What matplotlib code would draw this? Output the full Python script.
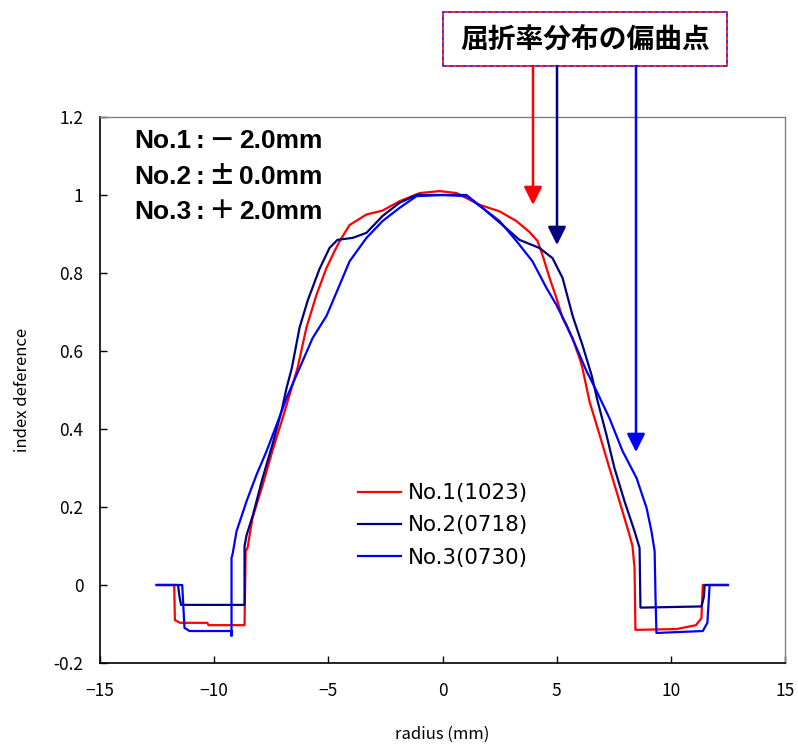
import matplotlib
matplotlib.use("Agg")
import matplotlib.pyplot as plt
from matplotlib.patches import Rectangle, FancyArrowPatch
from matplotlib.offsetbox import TextArea, HPacker, AnchoredOffsetbox

plt.rcParams['font.family'] = ['Noto Sans CJK JP', 'DejaVu Sans']
latin_bold = ['Liberation Sans', 'Noto Sans CJK JP', 'DejaVu Sans']
cjk = ['Noto Sans CJK JP', 'DejaVu Sans']

# ---- data ----
red_x = [-12.5, -11.75, -11.72, -11.5, -10.3, -10.25, -8.67, -8.62, -8.54, -8.32, -7.88, -7.45, -7.0, -6.61,
         -6.35, -5.96, -5.52, -5.08, -4.73, -4.5, -4.07, -3.33, -2.63, -1.88, -1.0, -0.13, 0.61, 1.62, 2.5,
         3.24, 3.81, 4.16, 4.38, 4.69, 4.99, 5.26, 5.69, 6.0, 6.13, 6.44, 6.88, 7.31, 7.75, 8.19, 8.32, 8.41,
         8.45, 10.25, 11.1, 11.34, 11.4, 12.5]
red_y = [0, 0, -0.09, -0.097, -0.097, -0.103, -0.103, 0.087, 0.095, 0.172, 0.256, 0.344, 0.428, 0.505,
         0.556, 0.66, 0.744, 0.813, 0.856, 0.882, 0.923, 0.95, 0.96, 0.984, 1.005, 1.01, 1.005, 0.975, 0.958,
         0.933, 0.905, 0.882, 0.846, 0.787, 0.736, 0.684, 0.633, 0.582, 0.556, 0.47, 0.385, 0.30, 0.215, 0.128,
         0.10, 0.044, -0.115, -0.113, -0.103, -0.085, 0, 0]

navy_x = [-12.5, -11.58, -11.52, -11.45, -8.67, -8.67, -8.58, -8.3, -7.9, -7.45, -7.05, -6.83, -6.6, -6.26,
          -5.9, -5.39, -4.95, -4.6, -3.94, -3.33, -2.63, -1.88, -1.14, 0, 1.05, 1.75, 2.63, 3.37, 4.25, 4.82,
          5.26, 5.7, 6.13, 6.53, 6.8, 7.18, 7.53, 7.97, 8.41, 8.63, 8.67, 11.34, 11.45, 11.48, 12.5]
navy_y = [0, 0, -0.03, -0.051, -0.051, 0.10, 0.128, 0.18, 0.27, 0.36, 0.446, 0.505, 0.556, 0.66,
          0.73, 0.81, 0.864, 0.885, 0.89, 0.903, 0.946, 0.98, 1.0, 1.0, 1.0, 0.967, 0.923, 0.885, 0.864, 0.838,
          0.787, 0.69, 0.615, 0.538, 0.47, 0.385, 0.30, 0.215, 0.138, 0.095, -0.058, -0.055, -0.03, 0, 0]

blue_x = [-12.53, -11.4, -11.3, -11.08, -9.24, -9.24, -9.24, -9.2, -9.02, -8.58, -8.15, -7.7, -7.27, -6.83,
          -6.26, -5.69, -5.08, -4.5, -4.07, -3.33, -2.63, -1.88, -1.14, 0, 1.05, 1.75, 2.5, 3.24, 3.94, 4.55,
          4.99, 5.43, 5.87, 6.31, 6.75, 7.31, 7.88, 8.5, 8.94, 9.15, 9.29, 9.33, 9.37, 11.4, 11.6, 11.7, 12.5]
blue_y = [0, 0, -0.11, -0.118, -0.118, -0.13, 0.07, 0.077, 0.138, 0.215, 0.282, 0.344, 0.41, 0.48,
          0.556, 0.633, 0.69, 0.77, 0.83, 0.89, 0.933, 0.967, 0.997, 1.0, 0.997, 0.967, 0.933, 0.882, 0.83, 0.762,
          0.718, 0.667, 0.608, 0.548, 0.497, 0.428, 0.344, 0.274, 0.197, 0.138, 0.087, -0.033, -0.123, -0.118,
          -0.097, 0, 0]

series_labels = ['No.1(1023)', 'No.2(0718)', 'No.3(0730)']
series_colors = ['#FF0000', '#000080', '#0000FF']

x_ticks = [-15, -10, -5, 0, 5, 10, 15]
x_ticklabels = ['\u221215', '\u221210', '\u22125', '0', '5', '10', '15']
y_ticks = [-0.2, 0, 0.2, 0.4, 0.6, 0.8, 1.0, 1.2]
y_ticklabels = ['-0.2', '0', '0.2', '0.4', '0.6', '0.8', '1', '1.2']

# each condition line: name, separator, sign, value
condition_names = ['No.1', 'No.2', 'No.3']
condition_signs = ['－', '±', '＋']
condition_values = ['2.0mm', '0.0mm', '2.0mm']
title_text = '屈折率分布の偏曲点'

# ---- figure ----
W, H = 798, 744
fig = plt.figure(figsize=(W / 100, H / 100), dpi=100)
ax = fig.add_axes([100 / W, 1 - 663 / H, 685 / W, 546 / H])

for xs, ys, lab, col in zip([red_x, navy_x, blue_x], [red_y, navy_y, blue_y], series_labels, series_colors):
    ax.plot(xs, ys, color=col, lw=1.6, label=lab)

ax.set_xlim(-15, 15)
ax.set_ylim(-0.2, 1.2)
ax.set_xticks(x_ticks)
ax.set_xticklabels(x_ticklabels, fontsize=12.5)
ax.set_yticks(y_ticks)
ax.set_yticklabels(y_ticklabels, fontsize=12.5)
ax.tick_params(axis='both', direction='in', length=5, width=1)
ax.tick_params(axis='x', pad=14)
ax.tick_params(axis='y', pad=12)
ax.tick_params(top=False, right=False)
for s in ['left', 'bottom']:
    ax.spines[s].set_color('black')
    ax.spines[s].set_linewidth(1.2)
for s in ['top', 'right']:
    ax.spines[s].set_color('#808080')
    ax.spines[s].set_linewidth(1.0)

ax.set_xlabel('radius (mm)', fontsize=12, labelpad=18)
ax.set_ylabel('index deference', fontsize=12, labelpad=16)

leg = ax.legend(loc='center left', bbox_to_anchor=(0.377, 0.252), frameon=False,
                prop={'family': 'DejaVu Sans', 'size': 15.4},
                handlelength=2.0, handletextpad=0.3, labelspacing=0.58, borderpad=0, borderaxespad=0)

# condition text (mixed fonts)
fs = 19
for i in range(3):
    parts = [
        TextArea(condition_names[i], textprops=dict(fontsize=fs, fontweight='bold', family=latin_bold)),
        TextArea(':', textprops=dict(fontsize=fs, fontweight='bold', family=latin_bold)),
        TextArea(condition_signs[i], textprops=dict(fontsize=fs, fontweight='bold', family=cjk)),
        TextArea(condition_values[i], textprops=dict(fontsize=fs, fontweight='bold', family=latin_bold)),
    ]
    box = HPacker(children=parts, sep=3, align='baseline', pad=0)
    anc = AnchoredOffsetbox(loc='center left', child=box, frameon=False, pad=0, borderpad=0,
                            bbox_to_anchor=(134 / W, 1 - (141 + i * 35) / H),
                            bbox_transform=fig.transFigure)
    fig.add_artist(anc)

# title box
fig.add_artist(Rectangle((443 / W, 1 - 66 / H), 284 / W, 54 / H, transform=fig.transFigure,
                         facecolor='white', edgecolor='#FF0000', lw=1.2))
fig.add_artist(Rectangle((443 / W, 1 - 66 / H), 284 / W, 54 / H, transform=fig.transFigure,
                         fill=False, edgecolor='#3030FF', lw=1.2, ls=(0, (2, 2))))
fig.text(585 / W, 1 - 40 / H, title_text, fontsize=20, fontweight='bold', ha='center', va='center')

# arrows
arrow_specs = [(533, 205, '#FF0000'), (557, 245, '#000080'), (636, 452, '#0000FF')]
for px, tip, col in arrow_specs:
    fig.add_artist(FancyArrowPatch(
        (px / W, 1 - 66 / H), (px / W, 1 - tip / H), transform=fig.transFigure,
        arrowstyle='-|>,head_length=11,head_width=5.5', color=col, lw=1.8, shrinkA=0, shrinkB=0,
        mutation_scale=1))

fig.savefig('out.png', dpi=100)
